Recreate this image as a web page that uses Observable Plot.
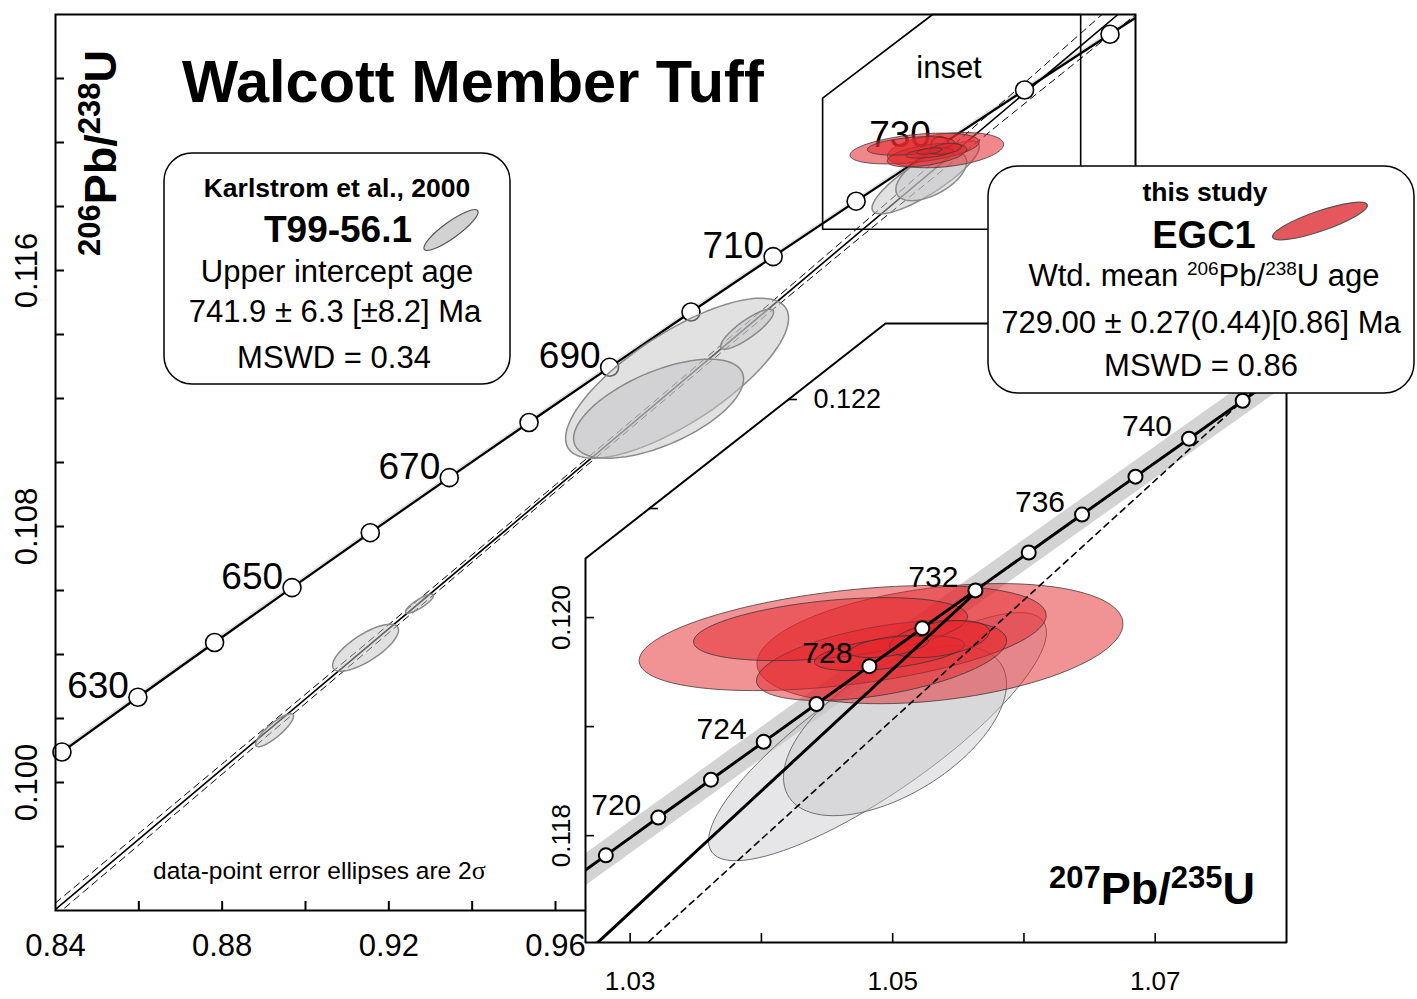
<!DOCTYPE html>
<html>
<head>
<meta charset="utf-8">
<title>Walcott Member Tuff</title>
<script src="https://cdn.jsdelivr.net/npm/d3@7"></script>
<script src="https://cdn.jsdelivr.net/npm/@observablehq/plot@0.6"></script>
<style>
  html, body { margin: 0; padding: 0; background: #fff; overflow: hidden; }
  #chart { position: relative; width: 1417px; height: 999px; }
  #chart > svg { position: absolute; left: 0; top: 0; }
</style>
</head>
<body>
<div id="chart"></div>
<script>
const FONT = '"Liberation Sans", Arial, Helvetica, sans-serif';
const W = 1417, H = 999;

// ---- Concordia, main panel: age (Ma), 207Pb/235U, 206Pb/238U ----
const mainAges = [610, 620, 630, 640, 650, 660, 670, 680, 690, 700, 710, 720, 730, 740, 750, 760];
const mainR75  = [0.823501, 0.841549, 0.859775, 0.878184, 0.896770, 0.915543, 0.934501, 0.953648,
                  0.972986, 0.992516, 1.012230, 1.032145, 1.052257, 1.072574, 1.093085, 1.113796];
const mainR68  = [0.0992479, 0.1009544, 0.1026636, 0.1043754, 0.1060899, 0.1078070, 0.1095268, 0.1112493,
                  0.1129745, 0.1147023, 0.1164328, 0.1181660, 0.1199019, 0.1216405, 0.1233818, 0.1251258];
const mainMarkerAges = [620, 630, 640, 650, 660, 670, 680, 690, 700, 710, 720, 730, 740, 750];
const mainLabelAges  = [630, 650, 670, 690, 710, 730];

// ---- Concordia, inset panel ----
const insetAges = [716, 718, 720, 722, 724, 726, 728, 730, 732, 734, 736, 738, 740, 742, 744];
const insetR75  = [1.024159, 1.028150, 1.032145, 1.036157, 1.040172, 1.044194, 1.048225, 1.052257,
                   1.056303, 1.060365, 1.064426, 1.068496, 1.072574, 1.076661, 1.080755];
const insetR68  = [0.1174724, 0.1178192, 0.1181660, 0.1185130, 0.1188601, 0.1192072, 0.1195545, 0.1199019,
                   0.1202494, 0.1205970, 0.1209448, 0.1212926, 0.1216405, 0.1219885, 0.1223367];
const insetMarkerAges = [718, 720, 722, 724, 726, 728, 730, 732, 734, 736, 738, 740, 742];
const insetLabelAges  = [720, 724, 728, 732, 736, 740];

// decay-constant uncertainty band (half width in 207Pb/235U)
const mainBandHalf = 0.0009;
const insetBandHalf = 0.0017;

// ---- Karlstrom et al. (2000), T99-56.1: 207/235, 206/238, 2-sigma, rho ----
const karlR75 = [0.89257, 0.91441, 0.92737, 0.98918, 0.98474, 1.00599, 1.048842, 1.050178];
const karlR68 = [0.101634, 0.104213, 0.105588, 0.112634, 0.111681, 0.114166, 0.118908, 0.118963];
const karlS75 = [0.00456, 0.00792, 0.00336, 0.02676, 0.0204, 0.00636, 0.012872, 0.008496];
const karlS68 = [0.000516, 0.000734, 0.000297, 0.0025, 0.001547, 0.000625, 0.001138, 0.00078];
const karlRho = [0.85, 0.75, 0.85, 0.75, 0.6, 0.85, 0.84, 0.55];

// ---- this study, EGC1 ----
const egcR75 = [1.046188, 1.053599, 1.045263, 1.04915, 1.049756, 1.053564, 1.049718];
const egcR68 = [0.119812, 0.119761, 0.119894, 0.119606, 0.119674, 0.119803, 0.119734];
const egcS75 = [0.015503, 0.013942, 0.010434, 0.009523, 0.005712, 0.003808, 0.003];
const egcS68 = [0.000482, 0.000551, 0.000289, 0.000367, 0.00016, 0.00017, 0.0001];
const egcRho = [0.43, 0.33, 0.4, 0.5, 0.5, 0.4, 0.5];

// ---- regression through T99-56.1 (upper intercept 741.9 Ma) ----
const regR75 = [0.84, 1.0950];
const regR68 = [0.096035, 0.124];
// dashed error envelope about the regression: 207/235 and half width in 206/238
const envR75  = [0.84, 0.88, 0.92, 0.96, 1.00, 1.04, 1.08, 1.10];
const envHalf = [0.00020, 0.00016, 0.00013, 0.00011, 0.00012, 0.00020, 0.00036, 0.00048];

// ---- heavy line in the inset, meeting concordia near 732 Ma ----
const trajR75 = [1.02752, 1.05631];
const trajR68 = [0.117018, 0.120229];

// ---- axes ----
const mainXTicks = [0.86, 0.88, 0.90, 0.92, 0.94, 0.96, 0.98];
const mainXLabels = [0.84, 0.88, 0.92, 0.96];
const mainYTicks = [0.098, 0.100, 0.102, 0.104, 0.106, 0.108, 0.110, 0.112, 0.114, 0.116, 0.118, 0.120, 0.122];
const mainYLabels = [0.100, 0.108, 0.116];
const insetXTicks = [1.03, 1.04, 1.05, 1.06, 1.07];
const insetXLabels = [1.03, 1.05, 1.07];
const insetYTicks = [0.118, 0.119, 0.120, 0.121, 0.122];
const insetYLabels = [0.118, 0.120];
const insetDiagLabels = [0.122];

// outline of the magnified area (main coordinates) and of the inset panel (inset coordinates)
const insetAreaR75 = [1.02411, 1.02411, 1.05051, 1.08604, 1.08604];
const insetAreaR68 = [0.117291, 0.121384, 0.124, 0.124, 0.117291];
const panelR75 = [1.0266, 1.0266, 1.049452, 1.0800, 1.0800];
const panelR68 = [0.11702, 0.120541, 0.122697, 0.122697, 0.11702];

// ---------------------------------------------------------------
const rows = (xs, ys, ages) => xs.map((x, i) => ({x, y: ys[i], age: ages ? ages[i] : i}));
const mainConc = rows(mainR75, mainR68, mainAges);
const insetConc = rows(insetR75, insetR68, insetAges);
const pick = (conc, ages) => conc.filter(d => ages.includes(d.age));

function ellipseRows(group, xs, ys, sxs, sys, rhos) {
  const out = [];
  const order = d3.range(xs.length).sort((a, b) => sxs[b] * sys[b] - sxs[a] * sys[a]);
  for (const i of order) {
    const k = Math.sqrt(1 - rhos[i] * rhos[i]);
    for (let j = 0; j < 96; ++j) {
      const t = 2 * Math.PI * j / 96;
      out.push({id: group + i, x: xs[i] + sxs[i] * Math.cos(t),
                y: ys[i] + sys[i] * (rhos[i] * Math.cos(t) + k * Math.sin(t))});
    }
  }
  return out;
}
const karl = ellipseRows("k", karlR75, karlR68, karlS75, karlS68, karlRho);
const egc = ellipseRows("e", egcR75, egcR68, egcS75, egcS68, egcRho);
const regression = rows(regR75, regR68);
const regAt = x => regR68[0] + (regR68[1] - regR68[0]) / (regR75[1] - regR75[0]) * (x - regR75[0]);
const envUpper = envR75.map((x, i) => ({x, y: regAt(x) + envHalf[i]}));
const envLower = envR75.map((x, i) => ({x, y: regAt(x) - envHalf[i]}));
const trajectory = rows(trajR75, trajR68);
const insetArea = rows(insetAreaR75, insetAreaR68);
const panel = rows(panelR75, panelR68);

const fmt2 = d3.format(".2f"), fmt3 = d3.format(".3f");

// ---------------- main panel ----------------
const M = {left: 55, right: 282, top: 14, bottom: 89};
const mainPlot = Plot.plot({
  width: W, height: H,
  marginLeft: M.left, marginRight: M.right, marginTop: M.top, marginBottom: M.bottom,
  x: {domain: [0.84, 1.0992], label: null},
  y: {domain: [0.096, 0.124], label: null},
  style: {fontFamily: FONT, background: "transparent", color: "black"},
  marks: [
    Plot.areaX(mainConc, {y: "y", x1: d => d.x - mainBandHalf, x2: d => d.x + mainBandHalf,
      fill: "#e2e2e2", curve: "catmull-rom", clip: true}),
    Plot.line(envUpper, {x: "x", y: "y", stroke: "black", strokeWidth: 1, strokeDasharray: "7,5", curve: "natural", clip: true}),
    Plot.line(envLower, {x: "x", y: "y", stroke: "black", strokeWidth: 1, strokeDasharray: "7,5", curve: "natural", clip: true}),
    Plot.line(regression, {x: "x", y: "y", stroke: "black", strokeWidth: 1.6, clip: true}),
    Plot.line(mainConc, {x: "x", y: "y", stroke: "black", strokeWidth: 2.2, curve: "catmull-rom", clip: true}),
    Plot.dot(pick(mainConc, mainMarkerAges), {x: "x", y: "y", r: 9, fill: "white", stroke: "black", strokeWidth: 1.6}),
    Plot.text(pick(mainConc, mainLabelAges), {x: "x", y: "y", text: d => String(d.age), textAnchor: "end",
      lineAnchor: "bottom", dx: -9, dy: 1, fontSize: 37}),
    Plot.line(karl, {x: "x", y: "y", z: "id", fill: "#c4c4c6", fillOpacity: 0.5, stroke: "#8a8a8a",
      strokeWidth: 1.5, curve: "linear-closed", clip: true}),
    Plot.line(egc, {x: "x", y: "y", z: "id", fill: "#e4262c", fillOpacity: 0.55, stroke: "#3a3a3a",
      strokeOpacity: 0.8, strokeWidth: 1, curve: "linear-closed", clip: true}),
    Plot.line(insetArea, {x: "x", y: "y", stroke: "black", strokeWidth: 1.6, curve: "linear-closed"}),
    Plot.ruleX(mainXTicks, {x: d => d, insetTop: (H - M.top - M.bottom) - 9, stroke: "black", strokeWidth: 2}),
    Plot.ruleY(mainYTicks, {y: d => d, insetRight: (W - M.left - M.right) - 9, stroke: "black", strokeWidth: 2}),
    Plot.axisX(mainXLabels, {tickSize: 0, tickPadding: 23, fontSize: 31, tickFormat: fmt2, label: null}),
    Plot.axisY(mainYLabels, {tickSize: 0, tickRotate: -90, tickPadding: 19, fontSize: 31, tickFormat: fmt3, label: null}),
    Plot.frame({stroke: "black", strokeWidth: 2})
  ]
});

// ---------------- inset panel ----------------
const I = {left: 585, right: W - 1286, top: 323, bottom: H - 942};
const insetXDom = [1.0266, 1.0800], insetYDom = [0.11702, 0.122697];
const insetTickLen = 9 * (insetXDom[1] - insetXDom[0]) / (W - I.left - I.right);
// left boundary of the panel at a given 206/238 value (vertical edge, then the bevelled edge)
function edgeX(y) {
  if (y <= panelR68[1]) return panelR75[0];
  const f = (y - panelR68[1]) / (panelR68[2] - panelR68[1]);
  return panelR75[1] + f * (panelR75[2] - panelR75[1]);
}
const insetPlot = Plot.plot({
  width: W, height: H,
  marginLeft: I.left, marginRight: I.right, marginTop: I.top, marginBottom: I.bottom,
  x: {domain: insetXDom, label: null},
  y: {domain: insetYDom, label: null},
  style: {fontFamily: FONT, background: "transparent", color: "black"},
  marks: [
    Plot.line(panel, {x: "x", y: "y", fill: "white", stroke: "none", curve: "linear-closed"}),
    Plot.areaX(insetConc, {y: "y", x1: d => d.x - insetBandHalf, x2: d => d.x + insetBandHalf,
      fill: "#d3d3d3", curve: "catmull-rom", clip: true}),
    Plot.line(karl, {x: "x", y: "y", z: "id", fill: "#c8c8cb", fillOpacity: 0.45, stroke: "#707070",
      strokeWidth: 1, curve: "linear-closed", clip: true}),
    Plot.line(egc, {x: "x", y: "y", z: "id", fill: "#e4262c", fillOpacity: 0.5, stroke: "#333",
      strokeOpacity: 0.75, strokeWidth: 1, curve: "linear-closed", clip: true}),
    Plot.line(regression, {x: "x", y: "y", stroke: "black", strokeWidth: 1.6, strokeDasharray: "6,5", clip: true}),
    Plot.line(trajectory, {x: "x", y: "y", stroke: "black", strokeWidth: 3, clip: true}),
    Plot.line(insetConc, {x: "x", y: "y", stroke: "black", strokeWidth: 3, curve: "catmull-rom", clip: true}),
    Plot.dot(pick(insetConc, insetMarkerAges), {x: "x", y: "y", r: 7, fill: "white", stroke: "black", strokeWidth: 2}),
    Plot.text(pick(insetConc, insetLabelAges), {x: "x", y: "y", text: d => String(d.age), textAnchor: "end",
      lineAnchor: "bottom", dx: -17, dy: -3, fontSize: 30}),
    Plot.ruleX(insetXTicks, {x: d => d, insetTop: (H - I.top - I.bottom) - 9, stroke: "black", strokeWidth: 1.6}),
    Plot.ruleY(insetYTicks, {y: d => d, x1: d => edgeX(d), x2: d => edgeX(d) + insetTickLen, stroke: "black", strokeWidth: 1.6}),
    Plot.axisX(insetXLabels, {tickSize: 0, tickPadding: 29, fontSize: 26, tickFormat: fmt2, label: null}),
    Plot.axisY(insetYLabels, {tickSize: 0, tickRotate: -90, tickPadding: 16, fontSize: 26, tickFormat: fmt3, label: null}),
    Plot.text(insetDiagLabels, {x: d => edgeX(d), y: d => d, text: d => fmt3(d), textAnchor: "start", dx: 25, fontSize: 27}),
    Plot.line(panel, {x: "x", y: "y", stroke: "black", strokeWidth: 2, curve: "linear-closed"})
  ]
});

// ---------------- titles, axis names and legend boxes ----------------
const overlay = d3.create("svg")
  .attr("width", W).attr("height", H).attr("viewBox", `0 0 ${W} ${H}`)
  .style("font-family", FONT);

function rich(sel, parts, size, supSize, lift) {
  let shift = 0;
  for (const [t, sup] of parts) {
    const target = sup ? -lift : 0;
    sel.append("tspan").attr("dy", target - shift).attr("font-size", sup ? supSize : size).text(t);
    shift = target;
  }
  return sel;
}

overlay.append("text").attr("x", 182).attr("y", 102).attr("font-size", 59.5).attr("font-weight", "bold")
  .text("Walcott Member Tuff");

rich(overlay.append("text").attr("transform", "translate(116,153) rotate(-90)").attr("text-anchor", "middle")
  .attr("font-weight", "bold"),
  [["206", true], ["Pb/", false], ["238", true], ["U", false]], 45, 31, 16);

rich(overlay.append("text").attr("x", 1255).attr("y", 904).attr("text-anchor", "end").attr("font-weight", "bold"),
  [["207", true], ["Pb/", false], ["235", true], ["U", false]], 45, 31, 16);

overlay.append("text").attr("x", 949).attr("y", 78).attr("text-anchor", "middle").attr("font-size", 31).text("inset");

const note = overlay.append("text").attr("x", 153).attr("y", 879).attr("font-size", 24.5);
note.append("tspan").text("data-point error ellipses are 2");
note.append("tspan").attr("font-family", '"Liberation Serif", "Times New Roman", serif').attr("font-size", 26).text("σ");

// Karlstrom et al. box
const kb = overlay.append("g");
kb.append("rect").attr("x", 164).attr("y", 153).attr("width", 346).attr("height", 231).attr("rx", 28)
  .attr("fill", "white").attr("stroke", "black").attr("stroke-width", 1.5);
kb.append("text").attr("x", 337).attr("y", 197).attr("text-anchor", "middle").attr("font-size", 26.5).attr("font-weight", "bold")
  .text("Karlstrom et al., 2000");
kb.append("text").attr("x", 338).attr("y", 242).attr("text-anchor", "middle").attr("font-size", 37).attr("font-weight", "bold")
  .text("T99-56.1");
kb.append("ellipse").attr("transform", "translate(451,230) rotate(-36)").attr("rx", 33).attr("ry", 8)
  .attr("fill", "#d2d2d2").attr("stroke", "#555").attr("stroke-width", 1.2);
kb.append("text").attr("x", 337).attr("y", 282).attr("text-anchor", "middle").attr("font-size", 31).text("Upper intercept age");
kb.append("text").attr("x", 335).attr("y", 322).attr("text-anchor", "middle").attr("font-size", 31).text("741.9 ± 6.3 [±8.2] Ma");
kb.append("text").attr("x", 334).attr("y", 368).attr("text-anchor", "middle").attr("font-size", 31).text("MSWD = 0.34");

// this study box
const sb = overlay.append("g");
sb.append("rect").attr("x", 988).attr("y", 166).attr("width", 426).attr("height", 227).attr("rx", 30)
  .attr("fill", "white").attr("stroke", "black").attr("stroke-width", 1.5);
sb.append("text").attr("x", 1205).attr("y", 201).attr("text-anchor", "middle").attr("font-size", 26.5).attr("font-weight", "bold")
  .text("this study");
sb.append("text").attr("x", 1204).attr("y", 248).attr("text-anchor", "middle").attr("font-size", 38).attr("font-weight", "bold")
  .text("EGC1");
sb.append("ellipse").attr("transform", "translate(1320,221) rotate(-19)").attr("rx", 50).attr("ry", 10)
  .attr("fill", "#e4575c").attr("stroke", "#555").attr("stroke-width", 1.2);
rich(sb.append("text").attr("x", 1204).attr("y", 286).attr("text-anchor", "middle"),
  [["Wtd. mean ", false], ["206", true], ["Pb/", false], ["238", true], ["U age", false]], 31, 19, 11);
sb.append("text").attr("x", 1201).attr("y", 333).attr("text-anchor", "middle").attr("font-size", 31)
  .text("729.00 ± 0.27(0.44)[0.86] Ma");
sb.append("text").attr("x", 1201).attr("y", 376).attr("text-anchor", "middle").attr("font-size", 31).text("MSWD = 0.86");

const chart = document.getElementById("chart");
chart.append(mainPlot, insetPlot, overlay.node());
</script>
</body>
</html>
